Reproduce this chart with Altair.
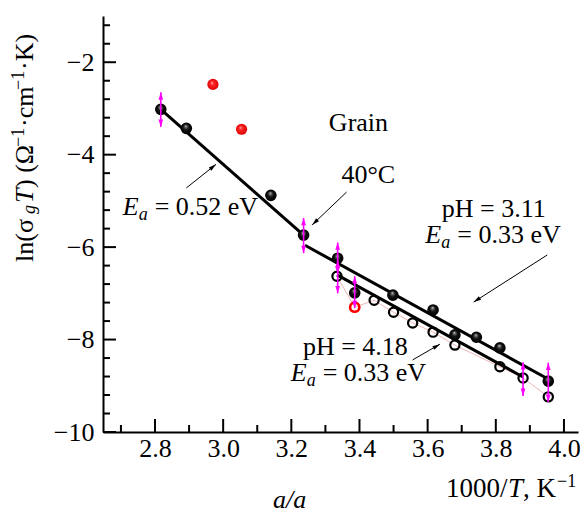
import math
import altair as alt
import pandas as pd

# ---------------- values ----------------
filled_x = [2.817, 2.892, 3.140, 3.236, 3.336, 3.386, 3.498, 3.616, 3.680, 3.743, 3.812, 3.954]
filled_y = [-3.02, -3.43, -4.88, -5.74, -6.24, -6.99, -7.04, -7.36, -7.90, -7.95, -8.18, -8.90]

open_x = [3.334, 3.443, 3.500, 3.556, 3.616, 3.680, 3.812, 3.880, 3.954]
open_y = [-6.63, -7.15, -7.41, -7.64, -7.84, -8.12, -8.59, -8.83, -9.24]

red_filled_x = [2.970, 3.054]
red_filled_y = [-2.48, -3.45]

red_open_x = [3.386]
red_open_y = [-7.30]

fit_names = ["Ea 0.52", "pH 3.11", "pH 4.18"]
fit_x1 = [2.817, 3.240, 3.334]
fit_y1 = [-3.02, -5.96, -6.60]
fit_x2 = [3.236, 3.960, 3.880]
fit_y2 = [-5.74, -8.88, -8.81]

err_x = [2.817, 3.236, 3.336, 3.336, 3.386, 3.880, 3.954]
err_hi = [-2.65, -5.37, -5.90, -6.28, -6.63, -8.49, -8.50]
err_lo = [-3.40, -6.13, -6.58, -7.00, -7.32, -9.22, -9.35]

arrow_x1 = [2.892, 3.362, 3.951, 3.556]
arrow_y1 = [-4.72, -4.81, -6.17, -8.44]
arrow_x2 = [2.979, 3.261, 3.735, 3.636]
arrow_y2 = [-4.21, -5.52, -7.19, -8.10]

note_text = ["Grain", "40°C", "pH = 3.11", "pH = 4.18"]
note_x = [3.397, 3.426, 3.794, 3.388]
note_y = [-3.49, -4.62, -5.35, -8.34]

ea_text = ["= 0.52 eV", "= 0.33 eV", "= 0.33 eV"]
ea_x = [2.705, 3.593, 3.198]
ea_y = [-5.31, -5.91, -8.90]

x_major = [2.8, 3.0, 3.2, 3.4, 3.6, 3.8, 4.0]
x_minor = [2.7, 2.9, 3.1, 3.3, 3.5, 3.7, 3.9]
y_major = [-10, -8, -6, -4, -2]
y_minor = [-9.6, -9.2, -8.8, -8.4, -7.6, -7.2, -6.8, -6.4, -5.6, -5.2,
           -4.8, -4.4, -3.6, -3.2, -2.8, -2.4, -1.6, -1.2]

# ---------------- layout / style ----------------
W, H = 475, 416
X_DOM = [2.6474, 4.0412]
Y_DOM = [-10, -1]
SERIF = "Liberation Serif"
MAGENTA = "#ff00ff"
RED = "#ff0000"

xs = alt.Scale(domain=X_DOM, nice=False, zero=False)
ys = alt.Scale(domain=Y_DOM, nice=False, zero=False)
xaxis = alt.Axis(values=x_major, format=".1f", title=None, grid=False, ticks=False,
                 tickSize=0, domain=True, domainColor="black", domainWidth=2,
                 labelFont=SERIF, labelFontSize=26, labelColor="black",
                 labelPadding=3, labelFlush=False, labelOverlap=False)
yaxis = alt.Axis(values=y_major, format="d", title=None, grid=False, ticks=False,
                 tickSize=0, domain=True, domainColor="black", domainWidth=2,
                 labelFont=SERIF, labelFontSize=26, labelColor="black",
                 labelExpr="replace(datum.label, '-', '\u2212')",
                 labelPadding=9, labelFlush=False, labelOverlap=False)


def X(f):
    return alt.X(f, type="quantitative", scale=xs, axis=xaxis)


def Y(f):
    return alt.Y(f, type="quantitative", scale=ys, axis=yaxis)


SX = W / (X_DOM[1] - X_DOM[0])
SY = H / (Y_DOM[1] - Y_DOM[0])


def head_angle(x1, y1, x2, y2):
    dx = (x2 - x1) * SX
    dy = -(y2 - y1) * SY
    return math.degrees(math.atan2(dx, -dy)) % 360


black_grad = alt.RadialGradient(
    gradient="radial",
    stops=[alt.GradientStop(offset=0, color="#d0d0d0"),
           alt.GradientStop(offset=0.22, color="#606060"),
           alt.GradientStop(offset=0.5, color="#111111"),
           alt.GradientStop(offset=1, color="#000000")],
    x1=0.45, y1=0.3, r1=0, x2=0.5, y2=0.5, r2=0.5)
red_grad = alt.RadialGradient(
    gradient="radial",
    stops=[alt.GradientStop(offset=0, color="#ffe6e6"),
           alt.GradientStop(offset=0.25, color="#ff3030"),
           alt.GradientStop(offset=1, color="#e00000")],
    x1=0.4, y1=0.35, r1=0, x2=0.5, y2=0.5, r2=0.5)

# ---------------- tables ----------------
df_filled = pd.DataFrame({"x": filled_x, "y": filled_y})
df_open = pd.DataFrame({"x": open_x, "y": open_y})
df_red_f = pd.DataFrame({"x": red_filled_x, "y": red_filled_y})
df_red_o = pd.DataFrame({"x": red_open_x, "y": red_open_y})
df_conn = pd.concat([df_open, df_red_o]).sort_values("x").reset_index(drop=True)
df_fit = pd.DataFrame({"name": fit_names, "x1": fit_x1, "y1": fit_y1, "x2": fit_x2, "y2": fit_y2})
df_err = pd.DataFrame({"x": err_x, "hi": err_hi, "lo": err_lo})
df_arrow = pd.DataFrame({"x1": arrow_x1, "y1": arrow_y1, "x2": arrow_x2, "y2": arrow_y2})
df_arrow["ang"] = [head_angle(a, b, c, d) for a, b, c, d in
                   zip(arrow_x1, arrow_y1, arrow_x2, arrow_y2)]
df_note = pd.DataFrame({"t": note_text, "x": note_x, "y": note_y})
df_ea = pd.DataFrame({"t": ea_text, "x": ea_x, "y": ea_y})
df_xmaj = pd.DataFrame({"v": x_major})
df_xmin = pd.DataFrame({"v": x_minor})
df_ymaj = pd.DataFrame({"v": y_major})
df_ymin = pd.DataFrame({"v": y_minor})
one = pd.DataFrame({"d": [0]})

layers = []

# thin red connecting line of the pH 4.18 points
layers.append(alt.Chart(df_conn).mark_line(color="#d84848", strokeWidth=0.8, opacity=0.5)
              .encode(x=X("x"), y=Y("y"), order="x:Q"))
# fit lines
layers.append(alt.Chart(df_fit).mark_rule(color="black", strokeWidth=3)
              .encode(x=X("x1"), y=Y("y1"), x2="x2", y2="y2"))
# open circles
layers.append(alt.Chart(df_open).mark_point(shape="circle", filled=False, stroke="black",
                                            strokeWidth=2.2, size=85, opacity=1)
              .encode(x=X("x"), y=Y("y")))
layers.append(alt.Chart(df_red_o).mark_point(shape="circle", filled=False, stroke=RED,
                                             strokeWidth=2.6, size=85, opacity=1)
              .encode(x=X("x"), y=Y("y")))
# spheres
layers.append(alt.Chart(df_filled).mark_point(shape="circle", filled=True, fill=black_grad,
                                              strokeWidth=0, size=135, opacity=1)
              .encode(x=X("x"), y=Y("y")))
layers.append(alt.Chart(df_red_f).mark_point(shape="circle", filled=True, fill=red_grad,
                                             strokeWidth=0, size=125, opacity=1)
              .encode(x=X("x"), y=Y("y")))
# magenta error bars
layers.append(alt.Chart(df_err).mark_rule(color=MAGENTA, strokeWidth=1.6)
              .encode(x=X("x"), y=Y("hi"), y2="lo"))
layers.append(alt.Chart(df_err).mark_point(shape="M0,0L0.7,2.2L-0.7,2.2Z", filled=True,
                                           fill=MAGENTA, strokeWidth=0, size=45, opacity=1)
              .encode(x=X("x"), y=Y("hi")))
layers.append(alt.Chart(df_err).mark_point(shape="M0,0L0.7,-2.2L-0.7,-2.2Z", filled=True,
                                           fill=MAGENTA, strokeWidth=0, size=45, opacity=1)
              .encode(x=X("x"), y=Y("lo")))
# annotation arrows
layers.append(alt.Chart(df_arrow).mark_rule(color="black", strokeWidth=1)
              .encode(x=X("x1"), y=Y("y1"), x2="x2", y2="y2"))
layers.append(alt.Chart(df_arrow).mark_point(shape="M0,0L0.5,1.8L-0.5,1.8Z", filled=True,
                                             fill="black", strokeWidth=0, size=70, opacity=1)
              .encode(x=X("x2"), y=Y("y2"), angle=alt.Angle("ang:Q", scale=None)))
# annotation texts
layers.append(alt.Chart(df_note).mark_text(font=SERIF, fontSize=26, color="black",
                                           align="center", baseline="alphabetic")
              .encode(x=X("x"), y=Y("y"), text="t:N"))
layers.append(alt.Chart(df_ea).mark_text(font=SERIF, fontSize=26, fontStyle="italic",
                                         color="black", align="left", baseline="alphabetic",
                                         text="E")
              .encode(x=X("x"), y=Y("y")))
layers.append(alt.Chart(df_ea).mark_text(font=SERIF, fontSize=18, fontStyle="italic",
                                         color="black", align="left", baseline="alphabetic",
                                         text="a", dx=16, dy=5)
              .encode(x=X("x"), y=Y("y")))
layers.append(alt.Chart(df_ea).mark_text(font=SERIF, fontSize=26, color="black",
                                         align="left", baseline="alphabetic", dx=32)
              .encode(x=X("x"), y=Y("y"), text="t:N"))
# inward ticks
layers.append(alt.Chart(df_xmaj).mark_rule(color="black", strokeWidth=2)
              .encode(x=X("v"), y=alt.value(H), y2=alt.value(H - 13)))
layers.append(alt.Chart(df_xmin).mark_rule(color="black", strokeWidth=2)
              .encode(x=X("v"), y=alt.value(H), y2=alt.value(H - 7)))
layers.append(alt.Chart(df_ymaj).mark_rule(color="black", strokeWidth=2)
              .encode(y=Y("v"), x=alt.value(0), x2=alt.value(13)))
layers.append(alt.Chart(df_ymin).mark_rule(color="black", strokeWidth=2)
              .encode(y=Y("v"), x=alt.value(0), x2=alt.value(7)))


def piece(text, px, py, size, italic=False, angle=0):
    kw = dict(text=text, font=SERIF, fontSize=size, color="black",
              align="left", baseline="alphabetic")
    if italic:
        kw["fontStyle"] = "italic"
    if angle:
        kw["angle"] = angle
    return alt.Chart(one).mark_text(**kw).encode(x=alt.value(px), y=alt.value(py))


# y-axis title, rotated, built from pieces
layers += [
    piece("ln(σ", -70, 246, 26, angle=270),
    piece("g", -68, 198, 18, italic=True, angle=270),
    piece("T", -70, 187, 26, italic=True, angle=270),
    piece(") (Ω", -70, 172, 26, angle=270),
    piece("−1", -79, 131, 18, angle=270),
    piece("·cm", -70, 111, 26, angle=270),
    piece("−1", -79, 74, 18, angle=270),
    piece("·K)", -70, 54, 26, angle=270),
]
# x-axis title
layers += [
    piece("1000/", 343, 481, 27),
    piece("T", 405, 481, 27, italic=True),
    piece(", K", 420, 481, 27),
    piece("−1", 454, 471, 18),
]
# panel caption
layers.append(piece("a/a", 170, 492, 26, italic=True))

chart = (alt.layer(*layers)
         .properties(width=W, height=H,
                     autosize=alt.AutoSizeParams(type="none"),
                     padding={"left": 95, "top": 8, "right": 2, "bottom": 84})
         .configure_view(stroke=None))

chart.save("out.html", embed_options={"renderer": "svg", "actions": False})
